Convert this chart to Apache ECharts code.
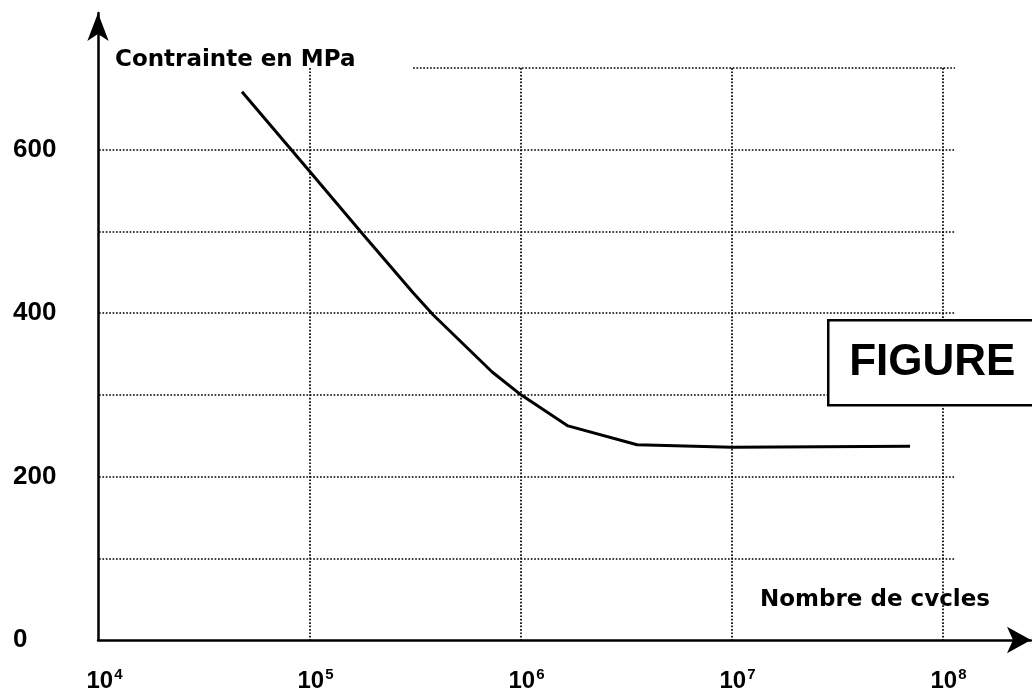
<!DOCTYPE html>
<html>
<head>
<meta charset="utf-8">
<script src="https://cdn.jsdelivr.net/npm/echarts@6/dist/echarts.min.js"></script>
<style>
  html, body { margin: 0; padding: 0; background: #fff; }
  #chart { width: 1032px; height: 694px; }
</style>
</head>
<body>
<div id="chart"></div>
<script>
// ---- data ----
const cycles = [4.76e4, 1.0e5, 1.76e5, 3.08e5, 3.83e5, 7.3e5, 1.0e6, 1.67e6, 3.55e6, 1.0e7, 6.98e7];
const stress = [671, 573, 498, 425, 398, 328, 300, 262, 239, 236, 237];
const yLabelValues = [0, 200, 400, 600];
const xTickExponents = [4, 5, 6, 7, 8];
const yTitle = 'Contrainte en MPa';
const xTitle = 'Nombre de cvcles';
const boxText = 'FIGURE';
const topGridStart = 3.08e5;   // the 700 MPa grid line starts here

const FONT = 'Liberation Sans';
const TFONT = 'DejaVu Sans';
const xMin = 1e4, xMax = 1.14e8, yMin = 0, yMax = 700;
const dotted = { color: '#000', width: 1.7, type: [1.7, 1.7] };

const chart = echarts.init(document.getElementById('chart'), null, { renderer: 'canvas' });

const option = {
  backgroundColor: '#fff',
  animation: false,
  grid: [
    { left: 99, right: 77, top: 68, bottom: 54, containLabel: false, outerBoundsMode: 'none' },
    { left: 98, right: 1, top: 13, bottom: 54, containLabel: false, outerBoundsMode: 'none' }
  ],
  xAxis: [
    {
      type: 'log', logBase: 10, min: xMin, max: xMax, gridIndex: 0,
      axisLine: { show: false }, axisTick: { show: false },
      splitLine: { show: true, showMinLine: false, showMaxLine: false, lineStyle: dotted },
      axisLabel: {
        show: true, margin: 27, showMaxLabel: false,
        formatter: function (v) {
          const e = Math.round(Math.log10(v));
          if (Math.abs(Math.log10(v) - e) > 1e-6 || xTickExponents.indexOf(e) < 0) return '';
          return '{p|}{b|10}{s|' + e + '}';
        },
        rich: {
          p: { width: 11, fontSize: 22 },
          b: { fontFamily: FONT, fontWeight: 'bold', fontSize: 24, color: '#000', lineHeight: 28 },
          s: { fontFamily: FONT, fontWeight: 'bold', fontSize: 15, color: '#000', verticalAlign: 'top', lineHeight: 28, padding: [0, 0, 20, 1] }
        }
      }
    },
    {
      type: 'value', min: 0, max: 1, gridIndex: 1,
      axisLine: { show: true, symbol: ['none', 'arrow'], symbolSize: [20, 24], lineStyle: { color: '#000', width: 2.5 } },
      axisTick: { show: false }, axisLabel: { show: false }, splitLine: { show: false }
    }
  ],
  yAxis: [
    {
      type: 'value', min: yMin, max: yMax, interval: 100, gridIndex: 0,
      axisLine: { show: false }, axisTick: { show: false },
      splitLine: { show: true, showMinLine: false, showMaxLine: false, lineStyle: dotted },
      axisLabel: {
        show: true, align: 'left', margin: 86,
        fontFamily: FONT, fontWeight: 'bold', fontSize: 26, color: '#000',
        formatter: function (v) { return yLabelValues.indexOf(v) >= 0 ? String(v) : ''; }
      }
    },
    {
      type: 'value', min: 0, max: 1, gridIndex: 1,
      axisLine: { show: true, symbol: ['none', 'arrow'], symbolSize: [16, 28], lineStyle: { color: '#000', width: 2.5 } },
      axisTick: { show: false }, axisLabel: { show: false }, splitLine: { show: false }
    }
  ],
  series: [
    {
      type: 'line', xAxisIndex: 0, yAxisIndex: 0,
      data: cycles.map((c, i) => [c, stress[i]]),
      showSymbol: false, smooth: false,
      lineStyle: { color: '#000', width: 3 },
      z: 5,
      markLine: {
        silent: true, symbol: ['none', 'none'], label: { show: false },
        lineStyle: dotted,
        data: [[{ coord: [topGridStart, yMax] }, { coord: [xMax, yMax] }]]
      }
    }
  ],
  graphic: [
    {
      type: 'text', left: 115, top: 49, z: 10,
      style: { text: yTitle, font: 'bold 23px "' + TFONT + '"', fill: '#000' }
    },
    {
      type: 'text', left: 760, top: 589, z: 10,
      style: { text: xTitle, font: 'bold 23px "' + TFONT + '"', fill: '#000' }
    },
    {
      type: 'group', left: 827, top: 319, z: 20,
      children: [
        { type: 'rect', shape: { x: 0, y: 0, width: 220, height: 85 },
          style: { fill: '#fff', stroke: '#000', lineWidth: 2.5 }, z: 20 },
        { type: 'text', x: 104, y: 43, z: 21,
          style: { text: boxText, font: 'bold 44px "' + FONT + '"', fill: '#000', align: 'center', verticalAlign: 'middle' } }
      ]
    }
  ]
};
chart.setOption(option);
</script>
</body>
</html>
